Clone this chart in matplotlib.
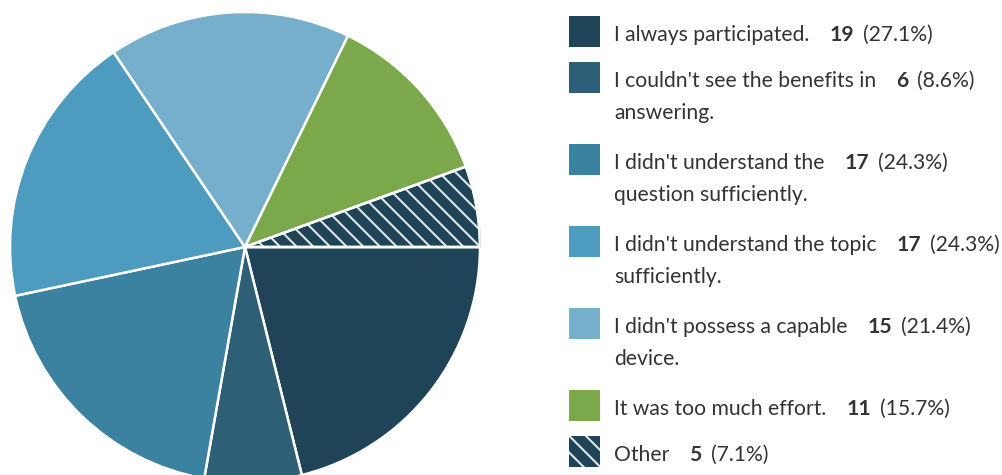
import matplotlib.pyplot as plt
from matplotlib.patches import Rectangle, Wedge

plt.rcParams["font.family"] = ["Lato", "DejaVu Sans"]
plt.rcParams["hatch.linewidth"] = 1.5

# answers, counts and share of respondents
labels = ["I always participated.",
          "I couldn't see the benefits in\nanswering.",
          "I didn't understand the\nquestion sufficiently.",
          "I didn't understand the topic\nsufficiently.",
          "I didn't possess a capable\ndevice.",
          "It was too much effort.",
          "Other"]
counts = [19, 6, 17, 17, 15, 11, 5]
percents = ["27.1%", "8.6%", "24.3%", "24.3%", "21.4%", "15.7%", "7.1%"]
colors = ["#1f4457", "#2d6077", "#3b81a0", "#4e9bc0", "#76afcc", "#7aa84a", "#1f4457"]
hatches = [None, None, None, None, None, None, "\\\\"]
hatch_col = "#dfe6ea"

W, H = 1002, 475
fig = plt.figure(figsize=(W / 100, H / 100), dpi=100)

# pie, centre (245, 247) px, radius 235 px
cx, cy, r = 245, 247, 235
ax = fig.add_axes([(cx - r) / W, (H - cy - r) / H, 2 * r / W, 2 * r / H])
wedges, _ = ax.pie(counts, colors=colors, startangle=0, counterclock=False,
                   radius=1, wedgeprops=dict(edgecolor="white", linewidth=1.8))
for w, h in zip(wedges, hatches):
    if h:
        w.set_hatch(h)
        w.set_edgecolor(hatch_col)
        # keep the white border around the hatched slice
        ax.add_patch(Wedge(w.center, w.r, w.theta1, w.theta2, fill=False,
                           edgecolor="white", linewidth=1.8))
ax.set_xlim(-1, 1)
ax.set_ylim(-1, 1)
ax.set_aspect("equal")
ax.axis("off")

# legend on the right
txt = "#333333"
fs = 15.2
sq_x, sq_size = 569, 31
text_x = 614
line_h = 32
top = 16
renderer = fig.canvas.get_renderer()


def fx(px):
    return px / W


def fy(py):
    return 1 - py / H


for lab, n, pct, col, h in zip(labels, counts, percents, colors, hatches):
    lines = lab.split("\n")
    sq = Rectangle((fx(sq_x), fy(top + sq_size)), sq_size / W, sq_size / H,
                   transform=fig.transFigure, facecolor=col,
                   edgecolor=hatch_col if h else col, linewidth=0,
                   hatch=h)
    fig.patches.append(sq)
    base = top + sq_size / 2 + 9.5
    t = fig.text(fx(text_x), fy(base), lines[0], fontsize=fs, color=txt,
                 va="baseline", ha="left")
    bb = t.get_window_extent(renderer)
    nx = bb.x1 + 20
    tn = fig.text(nx / W, fy(base), str(n), fontsize=fs, color=txt,
                  fontweight="bold", va="baseline", ha="left")
    bb2 = tn.get_window_extent(renderer)
    fig.text((bb2.x1 + 9) / W, fy(base), "(" + pct + ")", fontsize=fs,
             color=txt, va="baseline", ha="left")
    for i, extra in enumerate(lines[1:], start=1):
        fig.text(fx(text_x), fy(base + line_h * i), extra, fontsize=fs,
                 color=txt, va="baseline", ha="left")
    top += 46 + 36 * (len(lines) - 1)

fig.savefig("out.png", dpi=100)
